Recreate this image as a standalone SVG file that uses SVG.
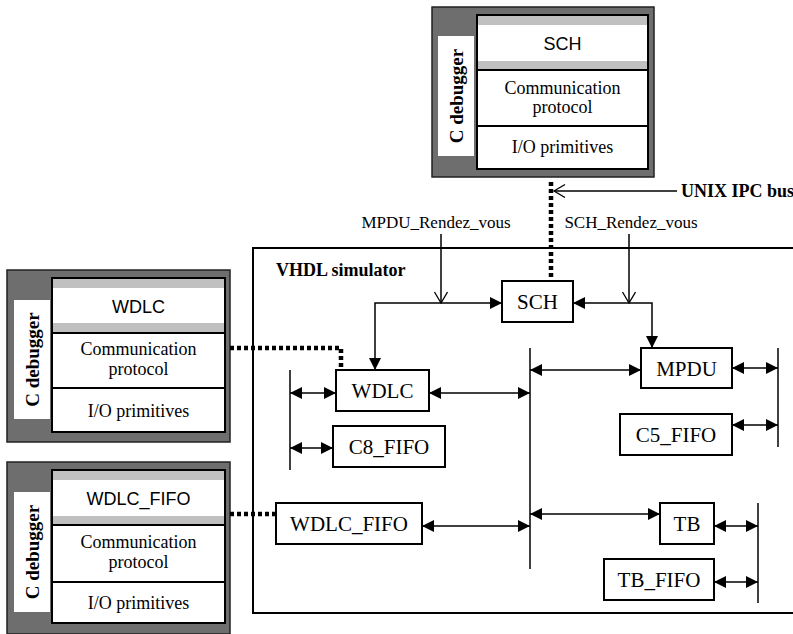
<svg xmlns="http://www.w3.org/2000/svg" width="793" height="634" viewBox="0 0 793 634">
  <style>
    .outer { fill: #6e6e6e; stroke: #222; stroke-width: 1.5; }
    .label { fill: #fff; stroke: none; }
    .sec { fill: #fff; stroke: #000; stroke-width: 2; }
    .band { fill: #c0c0c0; stroke: none; }
    .node { fill: #fff; stroke: #000; stroke-width: 2; }
    .sans { font-family: "Liberation Sans", Arial, sans-serif; font-size: 18px; text-anchor: middle; fill: #000; }
    .serif { font-family: "Liberation Serif", "Times New Roman", serif; font-size: 18px; text-anchor: middle; fill: #000; }
    .nodetxt { font-family: "Liberation Serif", "Times New Roman", serif; font-size: 21px; text-anchor: middle; fill: #000; }
    .bold { font-family: "Liberation Serif", "Times New Roman", serif; font-size: 18px; font-weight: bold; fill: #000; }
    .cdbg { font-family: "Liberation Serif", "Times New Roman", serif; font-size: 19px; font-weight: bold; text-anchor: middle; dominant-baseline: central; fill: #000; }
    .rv { font-family: "Liberation Serif", "Times New Roman", serif; font-size: 17px; text-anchor: middle; fill: #000; }
    .wire { fill: none; stroke: #000; stroke-width: 1.5; }
    .bus { fill: none; stroke: #000; stroke-width: 1.5; }
    .dots { fill: none; stroke: #000; stroke-width: 4.5; stroke-dasharray: 4 3; }
  </style>
  <defs>
    <marker id="head" markerUnits="userSpaceOnUse" markerWidth="13" markerHeight="13" refX="12" refY="6" orient="auto-start-reverse">
      <path d="M0,0 L12,6 L0,12 z" fill="#000"/>
    </marker>
    <marker id="open" markerUnits="userSpaceOnUse" markerWidth="14" markerHeight="16" refX="12" refY="7" orient="auto-start-reverse">
      <path d="M1,0.5 L12,7 L1,13.5" fill="none" stroke="#000" stroke-width="1.3"/>
    </marker>
  </defs>

  <!-- C debugger attached to SCH (top) -->
  <g id="dbg-sch">
    <rect class="outer" x="432" y="7" width="222" height="170"/>
    <rect class="label" x="438" y="36" width="36" height="120"/>
    <text class="cdbg" transform="translate(456,96) rotate(-90)">C debugger</text>
    <rect class="sec" x="477" y="15" width="171" height="55"/>
    <rect class="band" x="478" y="16" width="169" height="9"/>
    <rect class="band" x="478" y="61" width="169" height="8"/>
    <rect class="sec" x="477" y="70" width="171" height="56"/>
    <rect class="sec" x="477" y="126" width="171" height="43"/>
    <text class="sans" x="562.5" y="50">SCH</text>
    <text class="serif" x="562.5" y="94">Communication</text>
    <text class="serif" x="562.5" y="113">protocol</text>
    <text class="serif" x="562.5" y="153">I/O primitives</text>
  </g>

  <!-- C debugger attached to WDLC -->
  <g id="dbg-wdlc">
    <rect class="outer" x="7" y="270" width="223" height="172"/>
    <rect class="label" x="14" y="300" width="36" height="119"/>
    <text class="cdbg" transform="translate(32,359.5) rotate(-90)">C debugger</text>
    <rect class="sec" x="52" y="278" width="173" height="55"/>
    <rect class="band" x="53" y="279" width="171" height="9"/>
    <rect class="band" x="53" y="323" width="171" height="9"/>
    <rect class="sec" x="52" y="333" width="173" height="55"/>
    <rect class="sec" x="52" y="388" width="173" height="44"/>
    <text class="sans" x="138.5" y="313">WDLC</text>
    <text class="serif" x="138.5" y="355">Communication</text>
    <text class="serif" x="138.5" y="375">protocol</text>
    <text class="serif" x="138.5" y="417">I/O primitives</text>
  </g>

  <!-- C debugger attached to WDLC_FIFO -->
  <g id="dbg-wdlc-fifo">
    <rect class="outer" x="7" y="462" width="223" height="172"/>
    <rect class="label" x="14" y="492" width="36" height="120"/>
    <text class="cdbg" transform="translate(32,552) rotate(-90)">C debugger</text>
    <rect class="sec" x="52" y="470" width="173" height="55"/>
    <rect class="band" x="53" y="471" width="171" height="9"/>
    <rect class="band" x="53" y="516" width="171" height="8"/>
    <rect class="sec" x="52" y="525" width="173" height="57"/>
    <rect class="sec" x="52" y="582" width="173" height="41"/>
    <text class="sans" x="138.5" y="505">WDLC_FIFO</text>
    <text class="serif" x="138.5" y="548">Communication</text>
    <text class="serif" x="138.5" y="568">protocol</text>
    <text class="serif" x="138.5" y="609">I/O primitives</text>
  </g>

  <!-- VHDL simulator frame (open to the right) -->
  <g id="vhdl-sim">
    <rect x="253" y="248" width="600" height="365" fill="none" stroke="#000" stroke-width="2"/>
    <text class="bold" x="276" y="276">VHDL simulator</text>
  </g>

  <!-- simulator processes -->
  <g id="sch">
    <rect class="node" x="502" y="281" width="71" height="41"/>
    <text class="nodetxt" x="537.5" y="309">SCH</text>
  </g>
  <g id="wdlc">
    <rect class="node" x="336" y="370" width="93" height="41"/>
    <text class="nodetxt" x="382.5" y="398">WDLC</text>
  </g>
  <g id="c8-fifo">
    <rect class="node" x="333" y="426" width="112" height="41"/>
    <text class="nodetxt" x="389" y="454">C8_FIFO</text>
  </g>
  <g id="mpdu">
    <rect class="node" x="641" y="348" width="91" height="40"/>
    <text class="nodetxt" x="686.5" y="376">MPDU</text>
  </g>
  <g id="c5-fifo">
    <rect class="node" x="620" y="414" width="112" height="41"/>
    <text class="nodetxt" x="676" y="442">C5_FIFO</text>
  </g>
  <g id="wdlc-fifo">
    <rect class="node" x="276" y="503" width="146" height="41"/>
    <text class="nodetxt" x="349" y="531">WDLC_FIFO</text>
  </g>
  <g id="tb">
    <rect class="node" x="660" y="503" width="54" height="41"/>
    <text class="nodetxt" x="687" y="531">TB</text>
  </g>
  <g id="tb-fifo">
    <rect class="node" x="604" y="559" width="110" height="41"/>
    <text class="nodetxt" x="659" y="587">TB_FIFO</text>
  </g>

  <!-- labels outside the simulator -->
  <g id="ipc-label">
    <text class="bold" x="681" y="197">UNIX IPC bus</text>
  </g>
  <g id="rv-labels">
    <text class="rv" x="436" y="228">MPDU_Rendez_vous</text>
    <text class="rv" x="631" y="228">SCH_Rendez_vous</text>
  </g>

  <!-- connectors -->
  <g id="connectors">
    <!-- IPC links -->
    <path class="dots" d="M551,182 V281"/>
    <path class="dots" d="M230,348 H341 V368"/>
    <path class="dots" d="M230,514 H276"/>
    <path class="wire" d="M677,191 H554" marker-end="url(#open)"/>

    <!-- rendez-vous signals -->
    <path class="wire" d="M441,234 V303" marker-end="url(#open)"/>
    <path class="wire" d="M629,234 V303" marker-end="url(#open)"/>
    <path class="wire" d="M375,370 V303 H502" marker-start="url(#head)" marker-end="url(#head)"/>
    <path class="wire" d="M573,303 H652 V348" marker-start="url(#head)" marker-end="url(#head)"/>

    <!-- buses -->
    <path class="bus" d="M290,370 V470"/>
    <path class="bus" d="M530,348 V569"/>
    <path class="bus" d="M778,348 V447"/>
    <path class="bus" d="M758,503 V603"/>

    <!-- bus attachments -->
    <path class="wire" d="M290,393 H336" marker-start="url(#head)" marker-end="url(#head)"/>
    <path class="wire" d="M429,393 H530" marker-start="url(#head)" marker-end="url(#head)"/>
    <path class="wire" d="M290,448 H333" marker-start="url(#head)" marker-end="url(#head)"/>
    <path class="wire" d="M530,370 H641" marker-start="url(#head)" marker-end="url(#head)"/>
    <path class="wire" d="M732,368 H778" marker-start="url(#head)" marker-end="url(#head)"/>
    <path class="wire" d="M732,425 H778" marker-start="url(#head)" marker-end="url(#head)"/>
    <path class="wire" d="M422,526 H530" marker-start="url(#head)" marker-end="url(#head)"/>
    <path class="wire" d="M530,514 H660" marker-start="url(#head)" marker-end="url(#head)"/>
    <path class="wire" d="M714,526 H758" marker-start="url(#head)" marker-end="url(#head)"/>
    <path class="wire" d="M714,582 H758" marker-start="url(#head)" marker-end="url(#head)"/>
  </g>
</svg>
